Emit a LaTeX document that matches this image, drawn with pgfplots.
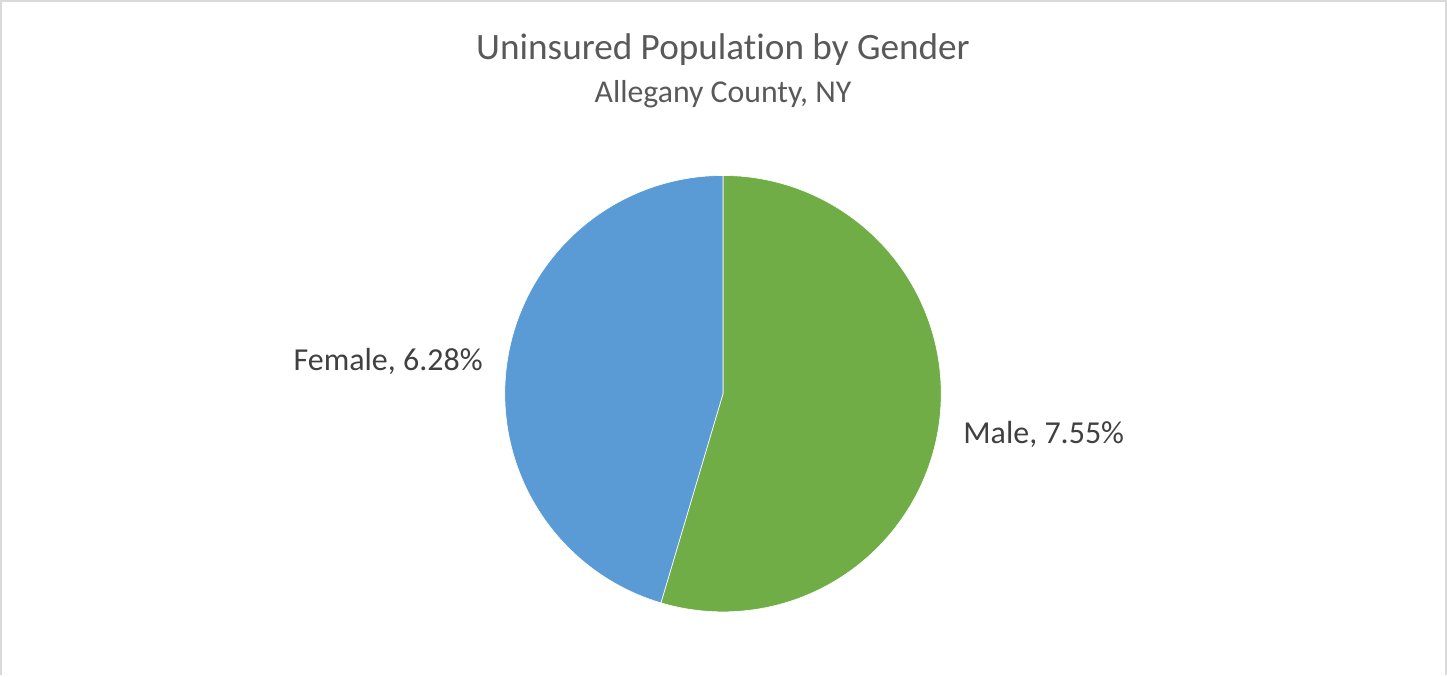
\documentclass[border=0pt]{standalone}
\usepackage{fontspec}
\setmainfont{Carlito}[Ligatures=NoCommon, RawFeature={-liga;-clig;-dlig}]
\usepackage{pgfplots}
\pgfplotsset{compat=1.18}
\definecolor{male}{HTML}{70AD47}
\definecolor{female}{HTML}{5B9BD5}
\definecolor{titlegray}{HTML}{595959}
\definecolor{labelgray}{HTML}{404040}
\definecolor{frame}{HTML}{D9D9D9}

% values (percent uninsured)
\def\male{7.55}
\def\female{6.28}

\begin{document}
\begin{tikzpicture}
% 1 px of the reference = 0.5pt
\pgfmathsetmacro{\tot}{\male+\female}
\pgfmathsetmacro{\split}{90-360*\male/\tot}
\begin{axis}[
    scale only axis,
    width=723.5pt, height=337.5pt,
    xmin=0, xmax=1447, ymin=0, ymax=675,
    hide axis,
    clip=false,
]
% chart frame (bottom edge is cut off in the reference)
\draw[frame, line width=1pt] (axis cs:4,0) -- (axis cs:4,670.5) -- (axis cs:1441,670.5) -- (axis cs:1441,0);
% slices
\addplot[fill=male, draw=white, line width=0.3pt, domain=90:\split, samples=200, variable=\t]
    ({722+217*cos(\t)}, {280+217*sin(\t)}) -- (axis cs:722,280) -- cycle;
\addplot[fill=female, draw=white, line width=0.3pt, domain=\split:-270, samples=200, variable=\t]
    ({722+217*cos(\t)}, {280+217*sin(\t)}) -- (axis cs:722,280) -- cycle;
% titles
\node[titlegray, font=\fontsize{18.5}{22}\selectfont] at (axis cs:722,622) {Uninsured Population by Gender};
\node[titlegray, font=\fontsize{15.8}{19}\selectfont] at (axis cs:722,578) {Allegany County, NY};
% data labels
\node[labelgray, font=\fontsize{15.9}{19}\selectfont, anchor=east] at (axis cs:490,312) {Female, 6.28\%};
\node[labelgray, font=\fontsize{15.9}{19}\selectfont, anchor=west] at (axis cs:954,239) {Male, 7.55\%};
\end{axis}
\end{tikzpicture}
\end{document}
